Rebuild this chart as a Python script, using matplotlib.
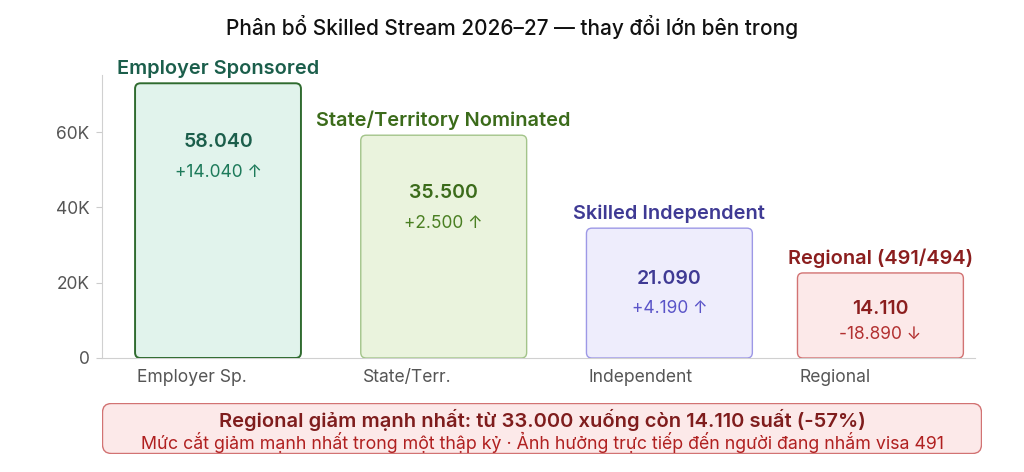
import matplotlib
matplotlib.use('Agg')
import matplotlib.pyplot as plt
from matplotlib.patches import FancyBboxPatch
from matplotlib.ticker import FuncFormatter

plt.rcParams['font.family'] = ['Inter', 'DejaVu Sans']

# dữ liệu
tick_labels = ['Employer Sp.', 'State/Terr.', 'Independent', 'Regional']
stream_names = ['Employer Sponsored', 'State/Territory Nominated', 'Skilled Independent', 'Regional (491/494)']
places = [58040, 35500, 21090, 14110]
changes = [14040, 2500, 4190, -18890]
bar_heights = [73000, 59200, 34500, 22600]   # chiều cao cột như trên hình

# kiểu
fills = ['#e1f3ec', '#eaf3dd', '#eeedfc', '#fce9e9']
edges = ['#2f6b2f', '#a3c48a', '#9d98e6', '#d27373']
edge_w = [1.4, 1.0, 1.0, 1.0]
dark = ['#1b5e4b', '#3b6b1a', '#3f3a94', '#8b1e1e']
light = ['#1d7a5a', '#4a7f22', '#5a54c8', '#b23030']
xpos = [0, 1, 2, 2.935]
bw = 0.735
val_off = [59, 58, 51, 36]
chg_off = [89, 88, 80, 61]

def fmt_num(v):
	return '{:,}'.format(v).replace(',', '.')

fig = plt.figure(figsize=(10.24, 4.72), dpi=100)
ax = fig.add_axes([102/1024, 1-358/472, 873/1024, 283/472])
ax.set_xlim(-0.514, 3.354)
ax.set_ylim(0, 75200)

for i in range(len(places)):
	p = FancyBboxPatch((xpos[i]-bw/2, 0), bw, bar_heights[i],
		boxstyle='round,pad=0,rounding_size=0.024', mutation_aspect=60000,
		fc=fills[i], ec=edges[i], lw=edge_w[i], zorder=3)
	ax.add_patch(p)
	ax.annotate(stream_names[i], (xpos[i], bar_heights[i]), xytext=(0, 5), textcoords='offset pixels',
		ha='center', va='bottom', fontsize=14.4, fontweight='semibold', color=dark[i])
	ax.annotate(fmt_num(places[i]), (xpos[i], bar_heights[i]), xytext=(0, -val_off[i]), textcoords='offset pixels',
		ha='center', va='center', fontsize=14, fontweight='semibold', color=dark[i])
	arrow = '↑' if changes[i] > 0 else '↓'
	sign = '+' if changes[i] > 0 else '-'
	ax.annotate(sign + fmt_num(abs(changes[i])) + ' ' + arrow, (xpos[i], bar_heights[i]),
		xytext=(0, -chg_off[i]), textcoords='offset pixels',
		ha='center', va='center', fontsize=12.5, color=light[i])
	ax.annotate(tick_labels[i], (xpos[i]-bw/2, 0), xytext=(2, -11), textcoords='offset pixels',
		ha='left', va='top', fontsize=12.6, color='#555555', annotation_clip=False)

ax.set_yticks([0, 20000, 40000, 60000])
ax.yaxis.set_major_formatter(FuncFormatter(lambda v, p: '0' if v == 0 else '%dK' % (v/1000)))
ax.set_xticks([])
ax.tick_params(axis='y', length=4, color='#cccccc', labelcolor='#555555', labelsize=12.5, pad=5)
for s in ['top', 'right']:
	ax.spines[s].set_visible(False)
ax.spines['left'].set_color('#d0d0d0')
ax.spines['bottom'].set_color('#d0d0d0')

fig.text(0.5, 1-27/472, 'Phân bổ Skilled Stream 2026–27 — thay đổi lớn bên trong',
	ha='center', va='center', fontsize=15, fontweight='medium', color='#111111')

# hộp ghi chú
fax = fig.add_axes([102/1024, 1-454/472, 880/1024, 51/472])
fax.set_xlim(0, 880)
fax.set_ylim(0, 51)
fax.axis('off')
fax.add_patch(FancyBboxPatch((0.5, 0.5), 879, 50, boxstyle='round,pad=0,rounding_size=9',
	fc='#fce9e9', ec='#d27373', lw=1.0))
fax.text(440, 34, 'Regional giảm mạnh nhất: từ 33.000 xuống còn 14.110 suất (-57%)',
	ha='center', va='center', fontsize=14.5, fontweight='semibold', color='#7f1d1d')
fax.text(440, 12, 'Mức cắt giảm mạnh nhất trong một thập kỷ · Ảnh hưởng trực tiếp đến người đang nhắm visa 491',
	ha='center', va='center', fontsize=12.8, color='#b02020')

fig.savefig('out.png', dpi=100)
